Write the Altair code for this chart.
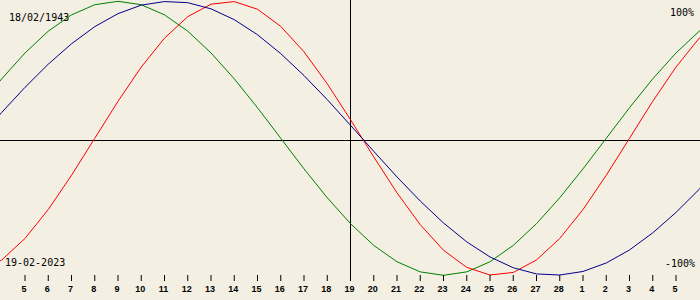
import altair as alt
import pandas as pd

# Day index (February day number; 29 = 1 March, ...)
days = list(range(3, 36))
physical = [-0.979, -0.888, -0.731, -0.520, -0.270, 0.0, 0.270, 0.520, 0.731, 0.888,
            0.979, 0.998, 0.942, 0.817, 0.631, 0.398, 0.136, -0.136, -0.398, -0.631,
            -0.817, -0.942, -0.998, -0.979, -0.888, -0.731, -0.520, -0.270, 0.0, 0.270,
            0.520, 0.731, 0.888]
emotional = [0.223, 0.434, 0.623, 0.782, 0.901, 0.975, 1.000, 0.975, 0.901, 0.782,
             0.623, 0.434, 0.223, 0.0, -0.223, -0.434, -0.623, -0.782, -0.901, -0.975,
             -1.000, -0.975, -0.901, -0.782, -0.623, -0.434, -0.223, 0.0, 0.223, 0.434,
             0.623, 0.782, 0.901]
intellectual = [0.0, 0.189, 0.372, 0.541, 0.690, 0.815, 0.910, 0.972, 0.998, 0.990,
                0.945, 0.866, 0.756, 0.618, 0.458, 0.282, 0.095, -0.095, -0.282, -0.458,
                -0.618, -0.756, -0.866, -0.945, -0.990, -0.998, -0.972, -0.910, -0.815,
                -0.690, -0.541, -0.372, -0.189]

tick_days = list(range(5, 34))
tick_labels = ["5", "6", "7", "8", "9", "10", "11", "12", "13", "14", "15", "16", "17",
               "18", "19", "20", "21", "22", "23", "24", "25", "26", "27", "28",
               "1", "2", "3", "4", "5"]

today = 19
birth_label = "18/02/1943"
date_label = "19-02-2023"

BG = "#f3efe3"

xs = alt.Scale(domain=[3.9247, 34.032], nice=False, zero=False)
ys = alt.Scale(domain=[-1.1803, 1.0095], nice=False, zero=False)

def series(vals, color):
    df = pd.DataFrame({"day": days, "v": vals})
    return alt.Chart(df).mark_line(color=color, strokeWidth=1, clip=True).encode(
        x=alt.X("day:Q", scale=xs, axis=None),
        y=alt.Y("v:Q", scale=ys, axis=None),
    )

ticks_df = pd.DataFrame({"day": tick_days, "label": tick_labels})

hline = alt.Chart(pd.DataFrame({"a": [0]})).mark_rule(color="black", strokeWidth=1).encode(
    x=alt.value(0), x2=alt.value(700), y=alt.value(140.5)
)
vline = alt.Chart(pd.DataFrame({"day": [today]})).mark_rule(color="black", strokeWidth=1).encode(
    x=alt.X("day:Q", scale=xs, axis=None), y=alt.value(0), y2=alt.value(281)
)
tick_marks = alt.Chart(ticks_df).mark_rule(color="black", strokeWidth=1).encode(
    x=alt.X("day:Q", scale=xs, axis=None), y=alt.value(275), y2=alt.value(281)
)
tick_text = alt.Chart(ticks_df).mark_text(
    font="Liberation Sans", fontSize=9, fontWeight="bold", color="black",
    baseline="alphabetic", align="center", dx=-1
).encode(
    x=alt.X("day:Q", scale=xs, axis=None), y=alt.value(292), text="label:N"
)

def label(txt, x, y, align):
    return alt.Chart(pd.DataFrame({"t": [txt]})).mark_text(
        font="DejaVu Sans Mono", fontSize=10, color="black",
        align=align, baseline="alphabetic"
    ).encode(x=alt.value(x), y=alt.value(y), text="t:N")

chart = alt.layer(
    hline,
    vline,
    series(emotional, "#008000"),
    series(physical, "#ff0000"),
    series(intellectual, "#00008b"),
    tick_marks,
    tick_text,
    label(birth_label, 9, 21, "left"),
    label(date_label, 5, 266, "left"),
    label("100%", 694, 16, "right"),
    label("-100%", 695, 267, "right"),
).properties(
    width=700, height=300, background=BG, padding=0,
    autosize=alt.AutoSizeParams(type="none")
).configure_view(stroke=None)

chart.save("out.html", embed_options={"renderer": "svg", "actions": False})
